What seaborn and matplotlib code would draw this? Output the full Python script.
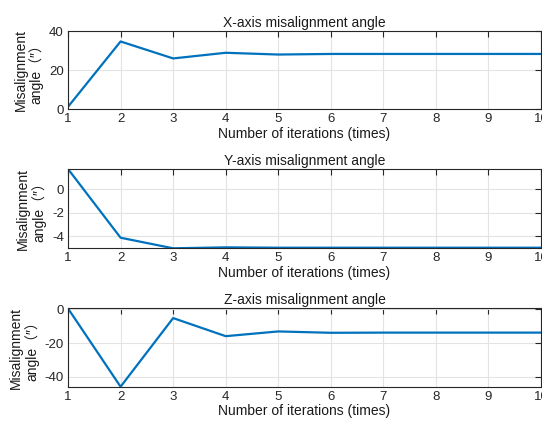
import matplotlib
matplotlib.use("Agg")
import matplotlib.pyplot as plt
import seaborn as sns
import pandas as pd

iterations = [1, 2, 3, 4, 5, 6, 7, 8, 9, 10]
x_angle = [1.2, 34.7, 26.0, 28.9, 28.0, 28.3, 28.3, 28.3, 28.3, 28.3]
y_angle = [1.73, -4.12, -5.02, -4.94, -4.97, -4.97, -4.97, -4.97, -4.97, -4.97]
z_angle = [0.5, -45.8, -5.2, -15.9, -13.1, -13.9, -13.8, -13.8, -13.8, -13.8]

titles = ["X-axis misalignment angle", "Y-axis misalignment angle", "Z-axis misalignment angle"]
yticks = [[0, 20, 40], [-4, -2, 0], [-40, -20, 0]]
ylims = [(0, 40), (min(y_angle), max(y_angle)), (min(z_angle), max(z_angle))]
xlabel = "Number of iterations (times)"
ylabel = "Misalignment\nangle\uff08\u2033\uff09"

sns.set_style("white")
plt.rcParams["font.family"] = ["Liberation Sans", "Noto Sans CJK SC", "DejaVu Sans"]
plt.rcParams["axes.unicode_minus"] = False

fig = plt.figure(figsize=(5.42, 4.23), dpi=100)
boxes = [
    [0.1255, 0.742, 0.8727, 0.1844],
    [0.1255, 0.413, 0.8727, 0.1875],
    [0.1255, 0.0858, 0.8727, 0.185],
]

for box, series, title, ticks, lim in zip(boxes, [x_angle, y_angle, z_angle], titles, yticks, ylims):
    ax = fig.add_axes(box)
    df = pd.DataFrame({"iter": iterations, "angle": series})
    sns.lineplot(data=df, x="iter", y="angle", ax=ax, color="#0072BD", linewidth=1.6)
    ax.set_xlim(1, 10)
    ax.set_ylim(*lim)
    ax.set_xticks(iterations)
    ax.set_yticks(ticks)
    ax.grid(True, color="#e3e3e3", linewidth=0.8)
    ax.set_axisbelow(True)
    for s in ax.spines.values():
        s.set_color("#262626")
        s.set_linewidth(0.8)
    ax.tick_params(direction="in", top=True, right=True, length=4, width=0.8,
                   colors="#262626", labelsize=9.5, pad=3)
    ax.set_title(title, fontsize=10, color="#1a1a1a", pad=3)
    ax.set_xlabel(xlabel, fontsize=10, color="#1a1a1a", labelpad=1)
    ax.set_ylabel(ylabel, fontsize=10, color="#1a1a1a", labelpad=4, linespacing=1.1,
                  family=["Liberation Sans", "Noto Sans CJK SC"])

fig.savefig("out.png", dpi=100)
